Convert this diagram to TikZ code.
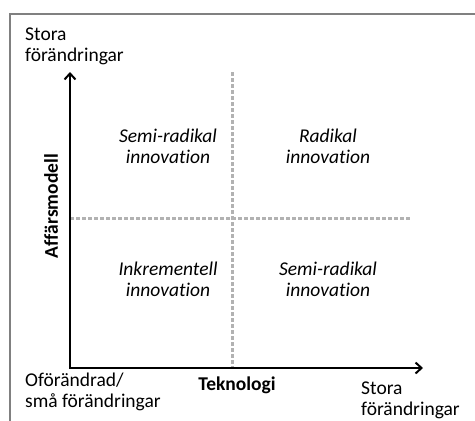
\documentclass[tikz,border=0pt]{standalone}
\usepackage{fontspec}
\setmainfont{Carlito}[Ligatures=NoCommon]
\usetikzlibrary{arrows.meta}
\begin{document}
\begin{tikzpicture}[x=1pt,y=-1pt,
  lbl/.style={font=\fontsize{19.5}{21}\selectfont, align=left, inner sep=0pt},
  quad/.style={font=\fontsize{19.5}{21}\selectfont\itshape, align=center, inner sep=0pt, anchor=north},
  axislbl/.style={font=\fontsize{19.5}{21}\selectfont\bfseries, inner sep=0pt},
  axis/.style={line width=2pt, -{Straight Barb[length=6pt,width=11pt,line width=2pt]}},
  divider/.style={draw=gray!60, line width=3pt, dash pattern=on 4pt off 2pt}]
\useasboundingbox (0,0) rectangle (475,421);
% outer frame (open at the right and bottom)
\draw[gray, line width=1.5pt] (10,421) -- (10,14) -- (475,14);
% origin and axis ends
\coordinate (o) at (70,368);
\coordinate (ytop) at (70,72);
\coordinate (xend) at (423,368);
% quadrant dividers
\coordinate (vtop) at (232,72);
\coordinate (vbot) at (232,368);
\coordinate (hl) at (70,218);
\coordinate (hr) at (411,218);
\draw[divider] (vtop) -- (vbot);
\draw[divider] (hl) -- (hr);
% axes
\draw[axis] (o) -- (ytop);
\draw[axis] (o) -- (xend);
\fill (69,367) rectangle (71,369);
% axis labels
\node[lbl, anchor=north west] (ytoplbl) at (25,28) {Stora\\förändringar};
\node[lbl, anchor=north west] (origlbl) at (25,373) {Oförändrad/\\små förändringar};
\node[lbl, anchor=north west] (xendlbl) at (361,382) {Stora\\förändringar};
\node[axislbl, anchor=base] (xname) at (237,390) {Teknologi};
\node[axislbl, rotate=90] (yname) at (51,206) {Affärsmodell};
% quadrant labels
\node[quad] (q2) at (168,129) {Semi-radikal\\innovation};
\node[quad] (q1) at (328,129) {Radikal\\innovation};
\node[quad] (q3) at (168,262) {Inkrementell\\innovation};
\node[quad] (q4) at (328,262) {Semi-radikal\\innovation};
\end{tikzpicture}
\end{document}
